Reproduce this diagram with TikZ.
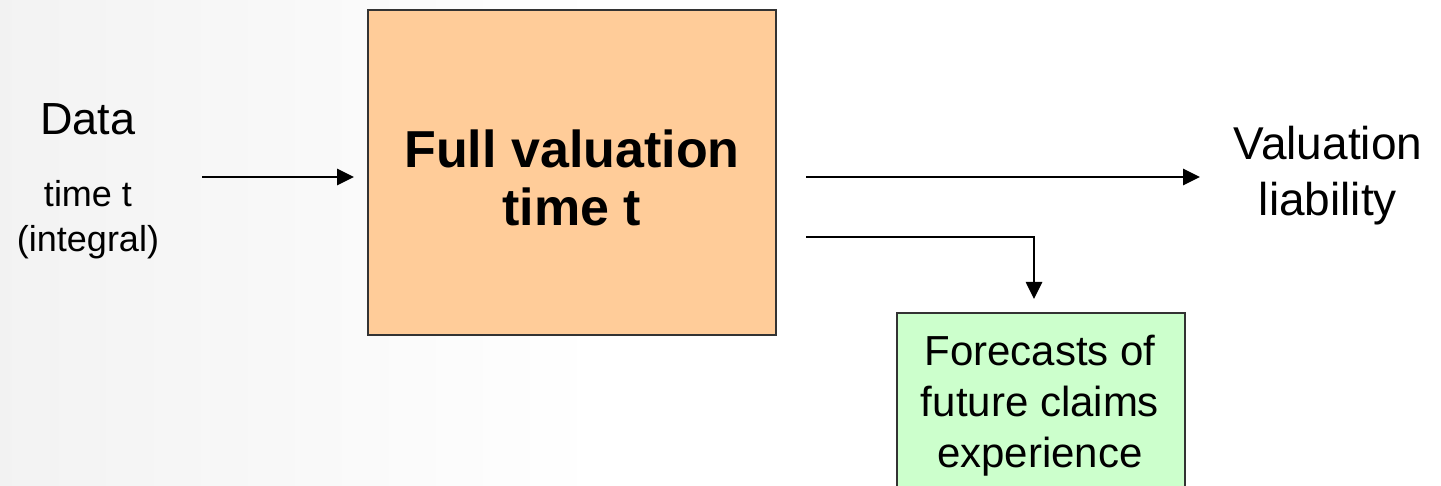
\documentclass[tikz,border=0pt]{standalone}
\usepackage{fontspec}
\setmainfont{Liberation Sans}
\usetikzlibrary{arrows.meta}
\definecolor{peach}{HTML}{FFCC99}
\definecolor{mint}{HTML}{CCFFCC}
\definecolor{edge}{HTML}{333333}
\tikzset{
  flow/.style={line width=2.7pt, -{Triangle[length=17pt,width=16pt]}},
  stepbox/.style={draw=edge, line width=2pt, inner sep=0pt},
  txt/.style={anchor=base, inner sep=0pt, text=black},
}
\newcommand{\fs}[1]{\fontsize{#1}{#1}\selectfont}
\begin{document}
\begin{tikzpicture}[x=1pt,y=-1pt]
  \useasboundingbox (0,0) rectangle (1441,486);
  \clip (0,0) rectangle (1441,486);
  % soft grey fade on the left edge
  \fill[white] (0,0) rectangle (1441,486);
  \shade[left color=black!5, right color=white] (0,0) rectangle (600,486);

  % input labels
  \node[txt] (data) at (88,135) {\fs{45}Data};
  \node[txt] (tt1) at (88,207) {\fs{36}time t};
  \node[txt] (intg) at (88,252) {\fs{36}(integral)};

  % main valuation box
  \node[stepbox, fill=peach, minimum width=408pt, minimum height=325pt] (full) at (572,172.5) {};
  \node[txt] (fv1) at (572,168) {\fs{52}\bfseries Full valuation};
  \node[txt] (fv2) at (572,226) {\fs{52}\bfseries time t};

  % output label
  \node[txt] (val1) at (1328,160) {\fs{46}Valuation};
  \node[txt] (val2) at (1328,216) {\fs{46}liability};

  % forecasts box
  \node[stepbox, fill=mint, minimum width=288pt, minimum height=200pt, anchor=north west] (fc) at (896,312) {};
  \node[txt] (fc1) at (1040,366) {\fs{42}Forecasts of};
  \node[txt] (fc2) at (1040,417) {\fs{42}future claims};
  \node[txt] (fc3) at (1040,467) {\fs{42}experience};

  % connectors
  \coordinate (inStart) at (202,177);
  \coordinate (inEnd) at (354,177);
  \coordinate (outStart) at (806,177);
  \coordinate (outEnd) at (1200,177);
  \coordinate (fcStart) at (806,237);
  \coordinate (fcCorner) at (1034,237);
  \coordinate (fcEnd) at (1034,299);
  \draw[flow] (inStart) -- (inEnd);
  \draw[flow] (outStart) -- (outEnd);
  \draw[flow] (fcStart) -- (fcCorner) -- (fcEnd);
\end{tikzpicture}
\end{document}
